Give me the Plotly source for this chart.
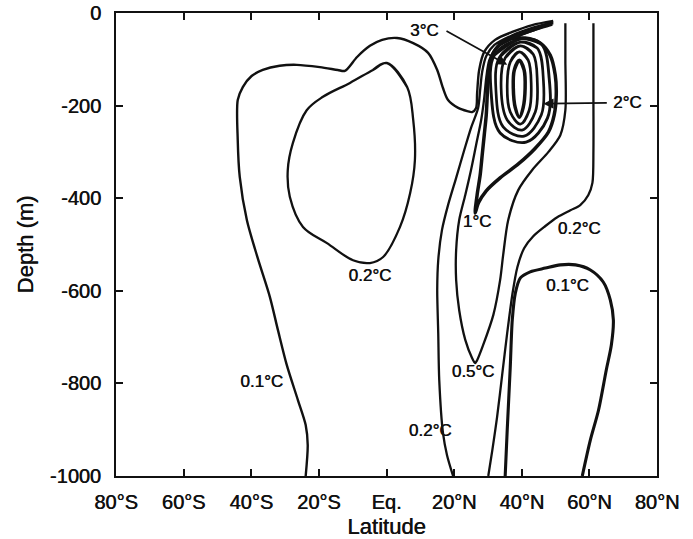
import plotly.graph_objects as go

# ---- contour paths: latitude (deg, south negative) and depth (m) ----
# 0.1 degC, southern / upper branch
lat_01_south = [-23.9, -23.3, -23.9, -26.2, -29.5, -32.1, -34.5, -38.1, -41.3, -43.4,
                -44.0, -44.0, -42.5, -39.9, -36.6, -31.6, -26.5, -19.7, -14.4, -12.3,
                -8.7, -4.9, -1.3, 3.1, 7.9, 12.3, 15.0, 16.7, 18.2, 21.2,
                23.9, 25.3, 26.5, 26.8, 27.4, 28.9, 32.1, 37.2, 43.1, 49.3]
dep_01_south = [-1000, -933, -890, -836, -760, -685, -613, -529, -447, -354,
                -274, -188, -160, -136, -123, -114, -112, -117, -123, -125,
                -95, -71, -58, -54, -65, -86, -123, -162, -188, -205,
                -212, -214, -205, -173, -123, -84, -58, -41, -26, -17]

# 0.2 degC, closed cell in the southern hemisphere
lat_02_cell = [0.1, 6.1, 7.9, 8.4, 7.0, 4.0, -1.0, -4.9, -9.9, -17.6,
               -24.7, -28.6, -29.2, -27.7, -23.6, -18.8, -10.8, -4.0]
dep_02_cell = [-108, -160, -231, -318, -389, -462, -527, -540, -534, -497,
               -462, -397, -339, -281, -210, -181, -151, -123]

# 0.2 degC, subtropical north branch
lat_02_west = [19.7, 17.9, 16.7, 15.6, 15.3, 15.0, 15.3, 16.4, 18.2, 20.6,
               23.0, 25.0, 27.1, 27.7, 28.3, 29.5, 31.9, 37.2, 43.1, 49.3]
dep_02_west = [-1000, -955, -907, -793, -691, -598, -534, -469, -415, -356,
               -296, -248, -205, -166, -127, -93, -69, -48, -32, -19]

# 0.2 degC, subpolar north branch
lat_02_east = [30.1, 31.3, 32.7, 34.2, 35.7, 37.2, 38.7, 40.7, 43.4, 47.0,
               50.5, 54.4, 57.3, 59.7, 60.9, 61.2, 61.2, 61.2]
dep_02_east = [-1000, -944, -873, -782, -691, -609, -549, -508, -482, -460,
               -441, -426, -415, -393, -367, -296, -188, -22]

# 0.5 degC tongue
lat_05 = [52.9, 52.9, 52.9, 51.4, 47.9, 43.1, 39.0, 36.0, 34.5, 33.6,
          31.6, 28.6, 26.8, 26.2, 25.3, 23.3, 21.5, 20.6, 20.6, 21.5,
          23.3, 25.0, 26.5, 28.0, 28.9, 29.5, 30.4, 32.4, 37.8, 43.7, 49.3]
dep_05 = [-22, -102, -210, -264, -300, -339, -382, -447, -523, -577,
          -652, -717, -750, -756, -745, -706, -642, -577, -512, -447,
          -393, -339, -285, -231, -184, -140, -102, -76, -54, -37, -22]

# 0.1 degC, deep subpolar dome
lat_01_north = [35.1, 35.7, 36.6, 37.2, 38.1, 39.6, 42.5, 47.0, 51.4, 55.9,
                60.3, 64.1, 66.2, 67.1, 66.5, 65.0, 62.7, 60.3, 57.9]
dep_01_north = [-1000, -901, -765, -663, -605, -572, -559, -551, -544, -544,
                -555, -581, -620, -663, -717, -771, -858, -922, -1000]

# 1 degC, teardrop around the warm core
lat_1 = [49.0, 44.0, 38.1, 33.6, 31.3, 30.1, 29.8, 29.5, 28.9, 28.3,
         27.7, 26.8, 26.2, 27.2, 29.5, 33.6, 39.0, 44.0, 47.9, 49.6,
         50.2, 49.9, 48.4, 45.5, 41.0, 36.6, 33.0]
dep_1 = [-24, -35, -50, -67, -91, -134, -177, -220, -264, -307,
         -350, -393, -432, -410, -384, -356, -326, -292, -257, -220,
         -177, -134, -91, -65, -54, -56, -69]

# warm core rings (1.5 .. 3 degC), outermost first
lat_core_a = [39.9, 45.8, 48.1, 47.6, 41.3, 33.6, 31.0, 31.9]
dep_core_a = [-56, -67, -140, -227, -279, -259, -177, -91]
lat_core_b = [39.6, 44.6, 46.4, 45.8, 40.7, 34.5, 32.4, 33.3]
dep_core_b = [-63, -76, -145, -220, -266, -246, -171, -97]
lat_core_c = [39.6, 43.4, 44.6, 44.0, 40.1, 35.7, 33.9, 35.1]
dep_core_c = [-71, -89, -149, -214, -253, -231, -162, -97]
lat_core_d = [39.3, 41.9, 42.8, 42.2, 39.6, 36.6, 35.7, 36.6]
dep_core_d = [-84, -102, -156, -210, -240, -214, -156, -106]
lat_core_e = [39.3, 40.7, 41.0, 40.4, 39.3, 38.1, 37.5, 37.8]
dep_core_e = [-102, -123, -162, -205, -225, -205, -162, -123]

# contour labels
label_text = ["0.1°C", "0.2°C", "0.2°C", "0.5°C", "1°C", "0.2°C", "0.1°C"]
label_lat = [-36.9, -4.9, 12.9, 25.6, 26.8, 57.0, 53.5]
label_dep = [-799, -570, -905, -778, -454, -469, -592]

# axis ticks
lat_ticks = [-80, -60, -40, -20, 0, 20, 40, 60, 80]
lat_tick_text = ["80°S", "60°S", "40°S", "20°S", "Eq.", "20°N", "40°N", "60°N", "80°N"]
dep_ticks = [0, -200, -400, -600, -800, -1000]
dep_tick_text = ["0", "-200", "-400", "-600", "-800", "-1000"]

FONT = "Liberation Sans, Arial, Helvetica, sans-serif"
INK = "#111111"
HEAVY = "0.5px 0 0 #111111"   # slight thickening of the glyphs


def closed(xs, ys):
    """Wrap a closed loop so the spline stays smooth where it joins."""
    return [xs[-1]] + xs + xs[:2], [ys[-1]] + ys + ys[:2]


fig = go.Figure()

open_paths = [
    (lat_01_south, dep_01_south, 2.4),
    (lat_02_west, dep_02_west, 2.3),
    (lat_05, dep_05, 2.3),
    (lat_02_east, dep_02_east, 2.3),
    (lat_01_north, dep_01_north, 3.1),
    (lat_1, dep_1, 3.5),
]
for xs, ys, w in open_paths:
    fig.add_trace(go.Scatter(x=xs, y=ys, mode="lines",
                             line=dict(color=INK, width=w, shape="spline", smoothing=0.8),
                             hoverinfo="skip", showlegend=False))

loops = [
    (lat_02_cell, dep_02_cell, 2.3),
    (lat_core_a, dep_core_a, 2.9),
    (lat_core_b, dep_core_b, 2.7),
    (lat_core_c, dep_core_c, 2.7),
    (lat_core_d, dep_core_d, 2.7),
    (lat_core_e, dep_core_e, 3.5),
]
for xs, ys, w in loops:
    cx, cy = closed(xs, ys)
    fig.add_trace(go.Scatter(x=cx, y=cy, mode="lines",
                             line=dict(color=INK, width=w, shape="spline", smoothing=1.0),
                             hoverinfo="skip", showlegend=False))

label_font = dict(family=FONT, size=17, color=INK, shadow=HEAVY)
fig.add_trace(go.Scatter(x=label_lat, y=label_dep, mode="text", text=label_text,
                         textfont=label_font, hoverinfo="skip", showlegend=False))

# pointer labels for the warm core
fig.add_annotation(x=11.1, y=-37, text="3°C", showarrow=False, font=label_font)
fig.add_annotation(x=35.7, y=-112, ax=17.3, ay=-37, axref="x", ayref="y",
                   text="", showarrow=True, arrowhead=2, arrowsize=1.2,
                   arrowwidth=1.7, arrowcolor=INK)
fig.add_annotation(x=71.3, y=-194, text="2°C", showarrow=False, font=label_font)
fig.add_annotation(x=46.4, y=-196, ax=65.6, ay=-194, axref="x", ayref="y",
                   text="", showarrow=True, arrowhead=2, arrowsize=1.2,
                   arrowwidth=1.7, arrowcolor=INK)

axis_common = dict(showline=True, linewidth=2, linecolor=INK, mirror="ticks",
                   ticks="inside", ticklen=7, tickwidth=2, tickcolor=INK,
                   showgrid=False, zeroline=False, automargin=False,
                   tickfont=dict(family=FONT, size=20, color=INK, shadow=HEAVY))
title_font = dict(family=FONT, size=22, color=INK, shadow=HEAVY)

fig.update_layout(
    width=693, height=539,
    margin=dict(l=116, r=36, t=13, b=63),
    paper_bgcolor="white", plot_bgcolor="white",
    font=dict(family=FONT, color=INK),
    xaxis=dict(range=[-80, 80], tickmode="array", tickvals=lat_ticks,
               ticktext=lat_tick_text, ticklabelstandoff=7,
               title=dict(text="Latitude", font=title_font, standoff=7),
               **axis_common),
    yaxis=dict(range=[-1000, 0], tickmode="array", tickvals=dep_ticks,
               ticktext=dep_tick_text, ticklabelstandoff=9,
               title=dict(text="Depth (m)", font=title_font, standoff=10),
               **axis_common),
)

fig.write_html("out.html")
